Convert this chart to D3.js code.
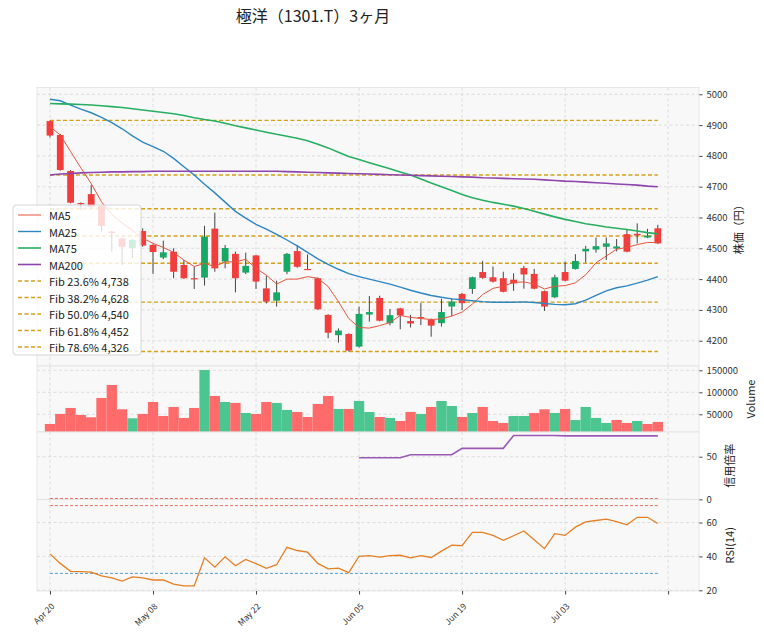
<!DOCTYPE html>
<html>
<head>
<meta charset="utf-8">
<script src="https://cdnjs.cloudflare.com/ajax/libs/d3/7.8.5/d3.min.js"></script>
<style>
  body { margin: 0; background: #fff; }
  svg text { font-family: "Noto Sans CJK JP", "Noto Sans", sans-serif; }
</style>
</head>
<body>
<div id="chart"></div>
<script>
const chartWidth = 764;
const chartHeight = 635;

const titleText = "極洋（1301.T）3ヶ月";

// daily OHLC
const opens  = [4913,4868,4751,4647,4676,4637,4554,4532,4500,4556,4511,4470,4489,4446,4403,4405,4564,4457,4482,4421,
                4477,4370,4330,4424,4491,4433,4403,4284,4218,4222,4181,4285,4339,4257,4305,4264,4277,4269,4257,4311,
                4352,4368,4423,4406,4403,4398,4436,4417,4361,4341,4423,4433,4490,4496,4505,4499,4546,4547,4535,4565];
const highs  = [4915,4871,4754,4649,4706,4640,4556,4535,4530,4565,4513,4525,4500,4462,4440,4573,4616,4511,4489,4486,
                4478,4411,4395,4485,4511,4480,4405,4286,4240,4224,4311,4345,4346,4303,4307,4284,4322,4272,4336,4338,
                4355,4408,4459,4441,4424,4419,4443,4433,4363,4414,4457,4481,4508,4535,4535,4530,4560,4581,4563,4576];
const lows   = [4860,4752,4646,4624,4632,4554,4489,4446,4468,4505,4417,4465,4403,4400,4368,4379,4424,4435,4357,4416,
                4368,4321,4311,4416,4437,4430,4300,4208,4194,4165,4178,4262,4263,4250,4237,4243,4251,4213,4246,4280,
                4300,4352,4401,4389,4357,4362,4369,4367,4297,4338,4393,4431,4454,4486,4462,4490,4487,4516,4533,4514];
const closes = [4866,4754,4648,4645,4635,4573,4551,4505,4527,4509,4488,4487,4424,4403,4402,4538,4435,4501,4403,4443,
                4392,4327,4357,4482,4440,4432,4302,4226,4233,4168,4287,4293,4265,4283,4282,4256,4276,4249,4293,4327,
                4322,4406,4404,4392,4359,4386,4415,4369,4311,4406,4395,4459,4498,4507,4516,4506,4489,4542,4541,4516];
const volumes = [28000,50800,64400,48500,43200,87100,116700,61400,40900,50800,78000,46200,66700,41700,64400,150800,91700,78000,75800,53000,
                 50800,78000,75800,59900,55300,43900,73500,91700,62100,62100,80300,55300,43900,41700,34800,55300,50800,66700,80300,68900,
                 43900,53000,66700,34800,30300,46200,46200,53000,61400,53000,62100,37100,66700,41700,30300,37100,30300,34800,28000,32600];

const ma5   = [4895,4868,4814,4761,4710,4651,4610,4582,4558,4533,4516,4503,4487,4462,4441,4451,4441,4456,4456,4464,
               4435,4413,4384,4400,4400,4408,4403,4376,4327,4272,4243,4241,4249,4259,4282,4276,4272,4269,4271,4280,
               4293,4319,4350,4370,4377,4389,4391,4384,4368,4377,4379,4388,4414,4453,4475,4497,4503,4512,4519,4519];
const ma25  = [4984,4979,4965,4952,4940,4925,4908,4888,4865,4845,4830,4815,4792,4765,4738,4708,4680,4650,4620,4598,
               4578,4562,4545,4527,4508,4487,4466,4448,4432,4418,4408,4400,4392,4384,4374,4364,4355,4347,4341,4336,
               4333,4330,4327,4325,4325,4325,4326,4324,4321,4318,4317,4320,4332,4347,4362,4372,4378,4387,4397,4408];
const ma75  = [4970,4969,4968,4967,4965,4963,4960,4957,4953,4949,4945,4941,4937,4931,4924,4918,4913,4906,4898,4891,
               4884,4877,4870,4864,4857,4849,4838,4826,4812,4798,4788,4778,4768,4758,4748,4738,4725,4712,4700,4688,
               4675,4664,4656,4649,4643,4637,4629,4620,4611,4602,4594,4587,4580,4575,4569,4565,4561,4556,4551,4547];
const ma200 = [4738,4741,4743,4745,4746,4747,4748,4748,4749,4749,4750,4750,4750,4750,4750,4750,4750,4750,4750,4750,
               4750,4750,4750,4749,4748,4747,4746,4745,4744,4743,4742,4741,4740,4739,4738,4737,4736,4735,4734,4733,
               4732,4731,4729,4728,4727,4726,4725,4724,4722,4720,4718,4717,4715,4713,4711,4709,4707,4705,4702,4700];

// 信用倍率 (weekly, starts Jun 05)
const marginRatio = [null,null,null,null,null,null,null,null,null,null,null,null,null,null,null,null,null,null,null,null,
                     null,null,null,null,null,null,null,null,null,null,48.8,48.8,48.8,48.8,48.8,52.3,52.3,52.3,52.3,52.3,
                     59.8,59.8,59.8,59.8,59.8,74.9,74.9,74.9,74.9,74.9,74.5,74.5,74.5,74.5,74.5,74.5,74.5,74.5,74.5,74.5];

const rsi = [41.5,35.9,31.2,31.0,30.8,28.5,27.3,25.5,27.9,27.3,26.1,26.1,23.6,22.6,22.6,39.2,33.7,39.8,34.5,38.2,
             35.7,33.0,35.1,45.4,43.5,42.5,35.9,32.7,33.1,30.4,40.1,40.5,39.6,40.5,40.7,39.2,40.5,39.4,43.1,46.6,
             46.4,54.2,54.2,52.4,49.5,52.2,55.0,49.9,44.6,53.4,52.4,57.3,60.4,61.2,62.0,60.6,58.7,63.1,63.1,59.4];

// Fibonacci retracement
const fibHigh = 4915;
const fibLow = 4165;
const fibPcts = ["23.6%", "38.2%", "50.0%", "61.8%", "78.6%"];
const fibLevels = [4738, 4628.5, 4540, 4451.5, 4325.5];
const fibLabels = ["4,738", "4,628", "4,540", "4,452", "4,326"];

const xTickIdx = [0, 10, 20, 30, 40, 50, 60];
const xTickLabels = ["Apr 20", "May 08", "May 22", "Jun 05", "Jun 19", "Jul 03", ""];
const priceTicks = [4200, 4300, 4400, 4500, 4600, 4700, 4800, 4900, 5000];
const volumeTicks = [50000, 100000, 150000];
const marginTicks = [0, 50];
const rsiTicks = [20, 40, 60];

// colours
const upColor = "#17a866", downColor = "#f23d3d";
const volUp = "#4cc690", volDown = "#ff6b6b";
const fibColor = "#d4a017";

const plotLeft = 37, plotRight = 699;
const panes = {
  price:  {top: 87.5, bottom: 366},
  volume: {top: 366, bottom: 432},
  margin: {top: 432, bottom: 499.5},
  rsi:    {top: 499.5, bottom: 591}
};

var svg = d3.select("#chart").append("svg")
  .attr("width", chartWidth)
  .attr("height", chartHeight);

var xScale = d3.scaleLinear().domain([-1.26, 62.9]).range([plotLeft, plotRight - 1]);

var yPrice  = d3.scaleLinear().domain([4118, 5022]).range([panes.price.bottom, panes.price.top]);
var yVolume = d3.scaleLinear().domain([9770, 159770]).range([panes.volume.bottom, panes.volume.top]);
var yMargin = d3.scaleLinear().domain([-0.2, 79]).range([panes.margin.bottom, panes.margin.top]);
var yRsi    = d3.scaleLinear().domain([19.6, 73.6]).range([panes.rsi.bottom, panes.rsi.top]);

var idx = d3.range(closes.length);

function makePane(name, pane, yScale, ticks, fmt, label, labelX) {
  svg.append("rect")
    .attr("x", plotLeft).attr("y", pane.top)
    .attr("width", plotRight - plotLeft).attr("height", pane.bottom - pane.top)
    .attr("fill", "#f8f8f8");

  svg.append("clipPath").attr("id", "clip-" + name)
    .append("rect")
    .attr("x", plotLeft).attr("y", pane.top)
    .attr("width", plotRight - plotLeft).attr("height", pane.bottom - pane.top);

  var grid = svg.append("g")
    .attr("stroke", "#d6d6d6").attr("stroke-width", 0.8).attr("stroke-dasharray", "3,2.5");
  grid.selectAll("line.gx").data(xTickIdx).enter().append("line")
    .attr("x1", d => xScale(d)).attr("x2", d => xScale(d))
    .attr("y1", pane.top).attr("y2", pane.bottom);
  grid.selectAll("line.gy").data(ticks).enter().append("line")
    .attr("x1", plotLeft).attr("x2", plotRight)
    .attr("y1", d => yScale(d)).attr("y2", d => yScale(d));

  var ax = svg.append("g")
    .attr("transform", "translate(" + plotRight + ",0)")
    .call(d3.axisRight(yScale).tickValues(ticks).tickSize(3.5).tickPadding(4).tickFormat(fmt));
  ax.select(".domain").remove();
  ax.selectAll("line").attr("stroke", "#444");
  ax.selectAll("text").attr("font-size", "9.5px").attr("fill", "#333")
    .style("font-family", "'Noto Sans CJK JP', sans-serif");

  svg.append("text")
    .attr("transform", "translate(" + labelX + "," + ((pane.top + pane.bottom) / 2) + ") rotate(-90)")
    .attr("text-anchor", "middle")
    .attr("dominant-baseline", "central")
    .attr("font-size", "11px")
    .attr("fill", "#222")
    .text(label);

  return svg.append("g").attr("clip-path", "url(#clip-" + name + ")");
}

function paneBorder(pane) {
  svg.append("rect")
    .attr("x", plotLeft).attr("y", pane.top)
    .attr("width", plotRight - plotLeft).attr("height", pane.bottom - pane.top)
    .attr("fill", "none").attr("stroke", "#e2e2e2").attr("stroke-width", 0.8);
}

var intFmt = d3.format("d");

// ---- price pane
var gPrice = makePane("price", panes.price, yPrice, priceTicks, intFmt, "株価（円）", 738);

var fibAll = [fibHigh].concat(fibLevels).concat([fibLow]);
gPrice.selectAll("line.fib").data(fibAll).enter().append("line")
  .attr("x1", xScale(0)).attr("x2", xScale(closes.length - 1))
  .attr("y1", d => yPrice(d)).attr("y2", d => yPrice(d))
  .attr("stroke", fibColor).attr("stroke-width", 1.3).attr("stroke-dasharray", "4,2.5");

gPrice.selectAll("line.wick").data(idx).enter().append("line")
  .attr("x1", i => xScale(i)).attr("x2", i => xScale(i))
  .attr("y1", i => yPrice(highs[i])).attr("y2", i => yPrice(lows[i]))
  .attr("stroke", "#444").attr("stroke-width", 1);

var bodyW = 6.8;
gPrice.selectAll("rect.body").data(idx).enter().append("rect")
  .attr("x", i => xScale(i) - bodyW / 2)
  .attr("width", bodyW)
  .attr("y", i => yPrice(Math.max(opens[i], closes[i])))
  .attr("height", i => Math.max(1.2, Math.abs(yPrice(opens[i]) - yPrice(closes[i]))))
  .attr("fill", i => closes[i] > opens[i] ? upColor : downColor);

var maDefs = [
  {name: "MA5", values: ma5, color: "#e8553e", width: 1},
  {name: "MA25", values: ma25, color: "#2e86c1", width: 1.4},
  {name: "MA75", values: ma75, color: "#27ae60", width: 1.6},
  {name: "MA200", values: ma200, color: "#8e44ad", width: 1.6}
];

maDefs.forEach(function(m) {
  var line = d3.line()
    .x((d, i) => xScale(i))
    .y(d => yPrice(d));
  gPrice.append("path")
    .datum(m.values)
    .attr("fill", "none")
    .attr("stroke", m.color)
    .attr("stroke-width", m.width)
    .attr("d", line);
});
paneBorder(panes.price);

// ---- volume pane
var gVol = makePane("volume", panes.volume, yVolume, volumeTicks, intFmt, "Volume", 750);
var step = xScale(1) - xScale(0);
gVol.selectAll("rect.vol").data(idx).enter().append("rect")
  .attr("x", i => xScale(i) - step / 2)
  .attr("width", step)
  .attr("y", i => yVolume(volumes[i]))
  .attr("height", i => yVolume(0) - yVolume(volumes[i]))
  .attr("fill", function(i) {
    var prev = i > 0 ? closes[i - 1] : opens[i];
    return closes[i] >= prev ? volUp : volDown;
  });
paneBorder(panes.volume);

// ---- margin ratio pane
var gMargin = makePane("margin", panes.margin, yMargin, marginTicks, intFmt, "信用倍率", 729);
gMargin.append("line")
  .attr("x1", xScale(0)).attr("x2", xScale(closes.length - 1))
  .attr("y1", yMargin(1)).attr("y2", yMargin(1))
  .attr("stroke", "#e74c3c").attr("stroke-width", 0.8).attr("stroke-dasharray", "3,2");
gMargin.append("path")
  .datum(idx)
  .attr("fill", "none")
  .attr("stroke", "#9b59b6")
  .attr("stroke-width", 1.6)
  .attr("d", d3.line()
    .defined(i => marginRatio[i] != null)
    .x(i => xScale(i))
    .y(i => yMargin(marginRatio[i])));
paneBorder(panes.margin);

// ---- RSI pane
var gRsi = makePane("rsi", panes.rsi, yRsi, rsiTicks, intFmt, "RSI(14)", 729);
[[70, "#e74c3c"], [30, "#2e86c1"]].forEach(function(r) {
  gRsi.append("line")
    .attr("x1", xScale(0)).attr("x2", xScale(closes.length - 1))
    .attr("y1", yRsi(r[0])).attr("y2", yRsi(r[0]))
    .attr("stroke", r[1]).attr("stroke-width", 0.8).attr("stroke-dasharray", "3,2");
});
gRsi.append("path")
  .datum(rsi)
  .attr("fill", "none")
  .attr("stroke", "#e67e22")
  .attr("stroke-width", 1.3)
  .attr("d", d3.line().x((d, i) => xScale(i)).y(d => yRsi(d)));
paneBorder(panes.rsi);

// ---- x axis (bottom)
var xAxis = svg.append("g")
  .attr("transform", "translate(0," + panes.rsi.bottom + ")")
  .call(d3.axisBottom(xScale).tickValues(xTickIdx).tickSize(3.5).tickFormat(""));
xAxis.select(".domain").remove();
xAxis.selectAll("line").attr("stroke", "#444");

svg.selectAll("text.xlab").data(xTickIdx).enter().append("text")
  .attr("transform", d => "translate(" + (xScale(d) + 5) + "," + (panes.rsi.bottom + 16) + ") rotate(-45)")
  .attr("text-anchor", "end")
  .attr("font-size", "8.5px")
  .attr("fill", "#333")
  .text((d, i) => xTickLabels[i]);

// ---- legend
var legendItems = maDefs.map(m => ({label: m.name, color: m.color, dash: null, width: m.width}))
  .concat(fibPcts.map((p, i) => ({label: "Fib " + p + " " + fibLabels[i], color: fibColor, dash: "4,2.5", width: 1.3})));

var legend = svg.append("g");
legend.append("rect")
  .attr("x", 13).attr("y", 205)
  .attr("width", 128).attr("height", 150)
  .attr("rx", 3)
  .attr("fill", "rgba(255,255,255,0.8)")
  .attr("stroke", "#cccccc").attr("stroke-width", 0.8);

var rows = legend.selectAll("g.row").data(legendItems).enter().append("g")
  .attr("transform", (d, i) => "translate(0," + (215 + i * 16.5) + ")");
rows.append("line")
  .attr("x1", 18).attr("x2", 41)
  .attr("stroke", d => d.color)
  .attr("stroke-width", d => d.width)
  .attr("stroke-dasharray", d => d.dash);
rows.append("text")
  .attr("x", 49)
  .attr("dominant-baseline", "central")
  .attr("font-size", "11px")
  .attr("fill", "#222")
  .text(d => d.label);

// ---- title
svg.append("text")
  .attr("x", 313).attr("y", 22)
  .attr("text-anchor", "middle")
  .attr("font-size", "16px")
  .attr("fill", "#222")
  .text(titleText);
</script>
</body>
</html>
